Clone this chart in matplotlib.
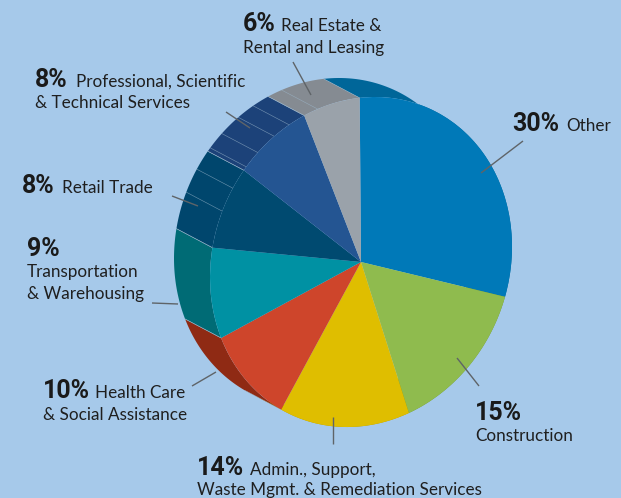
import numpy as np
import matplotlib
matplotlib.use("Agg")
import matplotlib.pyplot as plt
from matplotlib.transforms import Affine2D

industries = ["Other", "Construction", "Admin", "Health Care", "Transportation",
              "Retail Trade", "Professional", "Real Estate"]
percents = [30, 15, 14, 10, 9, 8, 8, 6]
top_colors = ["#0079B8", "#8FBB4E", "#DFBE00", "#CE452B", "#0091A3", "#004A70", "#245592", "#9AA2AA"]
side_colors = ["#006699", "#6F9338", "#B39800", "#8F2A14", "#006B75", "#00466D", "#1C4279", "#858B92"]
BG = "#A6C9EA"
START = 90.5
# fold lines inside the side band: slice index, fractions of the slice
folds = {5: [0.45, 0.75], 6: [0.05, 0.27, 0.55, 0.78], 7: [0.25]}

labels = [
    ("6%", 243, 31, "Real Estate &", 281, 31), (None, 0, 0, "Rental and Leasing", 243, 53),
    ("8%", 35, 87, "Professional, Scientific", 76, 87), (None, 0, 0, "& Technical Services", 35, 108),
    ("8%", 22, 193, "Retail Trade", 62, 193),
    ("9%", 27, 256, "Transportation", 27, 277), (None, 0, 0, "& Warehousing", 27, 299),
    ("10%", 43, 398, "Health Care", 95, 398), (None, 0, 0, "& Social Assistance", 43, 420),
    ("14%", 197, 475, "Admin., Support,", 250, 475), (None, 0, 0, "Waste Mgmt. & Remediation Services", 197, 495),
    ("15%", 475, 420, "Construction", 475, 441),
    ("30%", 512, 131, "Other", 566, 131),
]
leaders = [((523, 141), (481, 173)), ((457, 358), (479, 386)), ((333, 417), (333, 444)),
           ((216, 372), (192, 386)), ((152, 303), (178, 304)), ((172, 196), (198, 206)),
           ((226, 112), (250, 128)), ((293, 62), (311, 95))]

fig = plt.figure(figsize=(6.21, 4.98), dpi=100, facecolor=BG)
ax = fig.add_axes([0, 0, 1, 1], facecolor=BG)

M = np.array([[151.0, 0.0], [-15.3, -164.3]])
CENTER = np.array([361.0, 262.0])
OFFSET = np.array([-36.0, -19.0])


def rim(deg):
    a = np.radians(np.atleast_1d(deg))
    return (M @ np.vstack([np.cos(a), np.sin(a)])).T + CENTER


edges = START - np.concatenate([[0], np.cumsum(percents)]) * 3.6

# side band of the cylinder, behind the top face
for i in range(len(percents)):
    th = np.linspace(edges[i], edges[i + 1], 80)
    front = rim(th)
    back = front + OFFSET
    poly = np.vstack([front, back[::-1]])
    ax.fill(poly[:, 0], poly[:, 1], facecolor=side_colors[i], edgecolor="none", zorder=1)

for i in range(3, len(percents)):
    for e in (edges[i], edges[i + 1]):
        p = rim(e)[0]
        ax.plot([p[0], p[0] + OFFSET[0]], [p[1], p[1] + OFFSET[1]], color="#9DB8CC", lw=0.4, alpha=0.7, zorder=2)

for i, fr in folds.items():
    for f in fr:
        p = rim(edges[i] + f * (edges[i + 1] - edges[i]))[0]
        ax.plot([p[0], p[0] + OFFSET[0]], [p[1], p[1] + OFFSET[1]], color="#9DB8CC", lw=0.4, alpha=0.7, zorder=2)

wedges, _ = ax.pie(percents, colors=top_colors, startangle=START, counterclock=False,
                   radius=1.0, wedgeprops=dict(linewidth=0, zorder=3))
tr = Affine2D(np.array([[M[0, 0], M[0, 1], CENTER[0]],
                        [M[1, 0], M[1, 1], CENTER[1]],
                        [0, 0, 1]])) + ax.transData
for w in wedges:
    w.set_transform(tr)
    w.set_zorder(3)

ax.set_aspect("auto")
ax.set_xlim(0, 621)
ax.set_ylim(498, 0)
ax.axis("off")

for (a, b) in leaders:
    ax.plot([a[0], b[0]], [a[1], b[1]], color="#5F6468", lw=1.0, zorder=5, solid_capstyle="butt")

for pct, px, py, txt, tx, ty in labels:
    if pct:
        ax.text(px, py, pct, family=["Roboto", "DejaVu Sans"], weight="bold", fontsize=18, color="#1A1A1A",
                ha="left", va="baseline", zorder=6)
    ax.text(tx, ty, txt, family=["Lato", "Roboto", "DejaVu Sans"], fontsize=12.3, color="#1F1F1F",
            ha="left", va="baseline", zorder=6)

fig.savefig("out.png", dpi=100, facecolor=BG)
